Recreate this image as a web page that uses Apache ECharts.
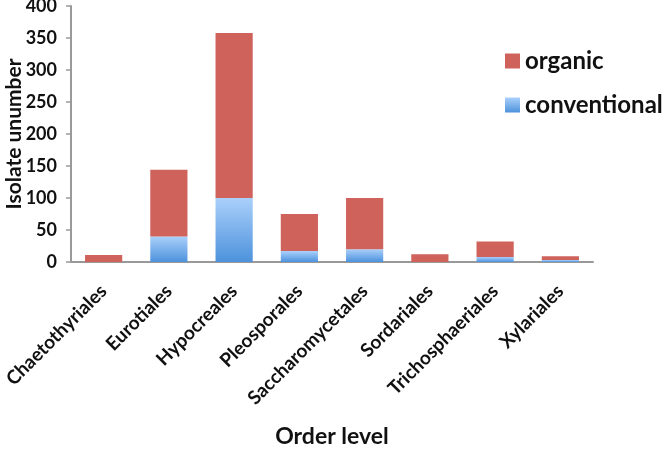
<!DOCTYPE html>
<html><head><meta charset="utf-8">
<script src="https://cdn.jsdelivr.net/npm/echarts@6/dist/echarts.min.js"></script>
<style>html,body{margin:0;padding:0;background:#fff}#c{width:664px;height:452px}</style>
</head><body><div id="c"></div>
<script>
const categories = ['Chaetothyriales','Eurotiales','Hypocreales','Pleosporales','Saccharomycetales','Sordariales','Trichosphaeriales','Xylariales'];
const conventional = [0, 40, 100, 17, 20, 0, 8, 3];
const total = [11, 144, 358, 75, 100, 12, 32, 9];
const organic = total.map((t, i) => t - conventional[i]);
const yTicks = [0, 50, 100, 150, 200, 250, 300, 350, 400];

const FONT = 'Lato';
const chart = echarts.init(document.getElementById('c'));
chart.setOption({
  animation: false,
  grid: { left: 71, right: 71, top: 6, bottom: 190, outerBoundsMode: 'none', containLabel: false },
  legend: {
    orient: 'vertical', left: 500, top: 44, itemGap: 20,
    itemWidth: 15, itemHeight: 15,
    data: [{name: 'organic', icon: 'rect'}, {name: 'conventional', icon: 'rect'}],
    textStyle: { fontFamily: FONT, fontWeight: 'bold', fontSize: 24, color: '#111' }
  },
  xAxis: {
    type: 'category', data: categories,
    name: 'Order level', nameLocation: 'middle', nameGap: 163, nameMoveOverlap: false,
    nameTextStyle: { fontFamily: FONT, fontWeight: 'bold', fontSize: 23, color: '#111' },
    axisLine: { lineStyle: { color: '#999', width: 2 } },
    axisTick: { show: false },
    axisLabel: { rotate: 45, interval: 0, margin: 26, fontFamily: FONT, fontWeight: 'bold', fontSize: 19, color: '#111' }
  },
  yAxis: {
    type: 'value', min: 0, max: 400, interval: 50,
    name: 'Isolate unumber', nameLocation: 'middle', nameGap: 46, nameMoveOverlap: false,
    nameTextStyle: { fontFamily: FONT, fontWeight: 'bold', fontSize: 21, color: '#111' },
    axisLine: { show: true, lineStyle: { color: '#999', width: 2 } },
    axisTick: { show: true, length: 5, lineStyle: { color: '#999', width: 1.5 } },
    splitLine: { show: false },
    axisLabel: { margin: 14, fontFamily: FONT, fontWeight: 'bold', fontSize: 18, color: '#111',
      formatter: v => yTicks.includes(v) ? String(v) : '' }
  },
  series: [
    { name: 'conventional', type: 'bar', stack: 's', data: conventional, barWidth: '57%',
      itemStyle: { color: new echarts.graphic.LinearGradient(0, 0, 0, 1, [
        { offset: 0, color: '#aad0fb' }, { offset: 1, color: '#4d92dc' }]) } },
    { name: 'organic', type: 'bar', stack: 's', data: organic, barWidth: '57%',
      itemStyle: { color: '#cf625b' } }
  ]
});
</script></body></html>
